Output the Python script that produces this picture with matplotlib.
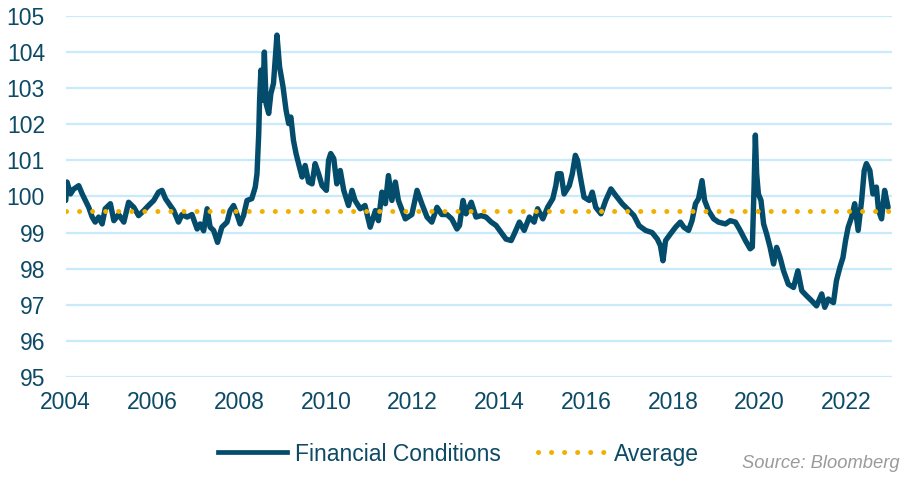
import matplotlib
matplotlib.use("Agg")
import matplotlib.pyplot as plt
from matplotlib.lines import Line2D

# ---- data ----
years = [
    2004.00, 2004.03, 2004.11, 2004.18, 2004.30, 2004.38, 2004.45, 2004.53, 2004.61, 2004.68,
    2004.76, 2004.84, 2004.91, 2005.03, 2005.11, 2005.22, 2005.34, 2005.45, 2005.57, 2005.68,
    2005.80, 2005.91, 2006.03, 2006.14, 2006.22, 2006.30, 2006.41, 2006.49, 2006.60, 2006.68,
    2006.80, 2006.91, 2007.03, 2007.10, 2007.18, 2007.26, 2007.33, 2007.41, 2007.50, 2007.60,
    2007.72, 2007.79, 2007.87, 2007.95, 2008.02, 2008.10, 2008.18, 2008.29, 2008.37, 2008.41,
    2008.45, 2008.47, 2008.50, 2008.54, 2008.58, 2008.62, 2008.68, 2008.73, 2008.79, 2008.83,
    2008.87, 2008.93, 2009.01, 2009.08, 2009.14, 2009.19, 2009.25, 2009.31, 2009.39, 2009.45,
    2009.52, 2009.60, 2009.68, 2009.75, 2009.83, 2009.91, 2010.01, 2010.06, 2010.11, 2010.18,
    2010.25, 2010.33, 2010.41, 2010.52, 2010.60, 2010.67, 2010.79, 2010.90, 2011.02, 2011.14,
    2011.21, 2011.29, 2011.37, 2011.44, 2011.52, 2011.60, 2011.67, 2011.83, 2011.98, 2012.10,
    2012.21, 2012.33, 2012.44, 2012.56, 2012.67, 2012.79, 2012.90, 2013.02, 2013.08, 2013.16,
    2013.23, 2013.35, 2013.46, 2013.58, 2013.69, 2013.81, 2013.92, 2014.04, 2014.15, 2014.27,
    2014.34, 2014.46, 2014.57, 2014.69, 2014.80, 2014.88, 2015.00, 2015.11, 2015.23, 2015.30,
    2015.34, 2015.42, 2015.49, 2015.61, 2015.68, 2015.75, 2015.80, 2015.88, 2015.95, 2016.07,
    2016.14, 2016.22, 2016.34, 2016.45, 2016.57, 2016.68, 2016.83, 2016.99, 2017.10, 2017.22,
    2017.37, 2017.52, 2017.64, 2017.71, 2017.77, 2017.83, 2017.94, 2018.06, 2018.17, 2018.25,
    2018.36, 2018.44, 2018.52, 2018.59, 2018.67, 2018.73, 2018.82, 2018.94, 2019.05, 2019.21,
    2019.32, 2019.44, 2019.55, 2019.67, 2019.78, 2019.83, 2019.87, 2019.90, 2019.93, 2019.97,
    2020.03, 2020.09, 2020.16, 2020.24, 2020.32, 2020.39, 2020.47, 2020.55, 2020.66, 2020.78,
    2020.88, 2020.97, 2021.08, 2021.20, 2021.31, 2021.43, 2021.50, 2021.58, 2021.70, 2021.77,
    2021.85, 2021.92, 2021.98, 2022.04, 2022.12, 2022.19, 2022.27, 2022.35, 2022.41, 2022.46,
    2022.54, 2022.61, 2022.69, 2022.74, 2022.81, 2022.88, 2022.96,
]
fci = [
    99.89, 100.40, 100.07, 100.20, 100.30, 100.07, 99.90, 99.70, 99.43, 99.29,
    99.43, 99.24, 99.66, 99.80, 99.33, 99.50, 99.29, 99.84, 99.70, 99.47,
    99.61, 99.75, 99.89, 100.12, 100.17, 99.94, 99.75, 99.61, 99.29, 99.50,
    99.43, 99.50, 99.10, 99.24, 99.05, 99.66, 99.15, 99.06, 98.73, 99.15,
    99.29, 99.61, 99.75, 99.50, 99.24, 99.47, 99.89, 99.94, 100.26, 100.63,
    101.74, 102.67, 103.50, 102.67, 104.00, 102.57, 102.30, 102.85, 103.13, 103.78,
    104.47, 103.60, 103.04, 102.39, 102.02, 102.20, 101.56, 101.19, 100.81, 100.54,
    100.86, 100.40, 100.35, 100.91, 100.63, 100.30, 100.17, 101.00, 101.19, 101.05,
    100.35, 100.72, 100.17, 99.75, 100.17, 99.89, 99.66, 99.75, 99.15, 99.61,
    99.33, 100.12, 99.80, 100.58, 99.89, 100.40, 99.89, 99.38, 99.50, 100.17,
    99.80, 99.43, 99.29, 99.70, 99.50, 99.50, 99.38, 99.10, 99.20, 99.89,
    99.52, 99.84, 99.43, 99.47, 99.43, 99.29, 99.20, 99.00, 98.82, 98.78,
    98.96, 99.29, 99.06, 99.43, 99.29, 99.66, 99.38, 99.70, 99.94, 100.30,
    100.63, 100.63, 100.07, 100.30, 100.63, 101.14, 101.00, 100.44, 99.98, 99.89,
    100.12, 99.70, 99.52, 99.89, 100.21, 100.03, 99.80, 99.61, 99.47, 99.19,
    99.06, 99.00, 98.82, 98.64, 98.22, 98.78, 98.96, 99.15, 99.29, 99.15,
    99.06, 99.33, 99.80, 99.94, 100.44, 99.89, 99.61, 99.38, 99.29, 99.24,
    99.33, 99.29, 99.06, 98.78, 98.55, 98.60, 100.26, 101.70, 100.63, 100.07,
    99.89, 99.24, 98.96, 98.59, 98.13, 98.59, 98.31, 97.94, 97.57, 97.48,
    97.94, 97.39, 97.25, 97.11, 96.97, 97.30, 96.93, 97.16, 97.06, 97.67,
    98.04, 98.31, 98.78, 99.15, 99.43, 99.80, 99.06, 99.89, 100.72, 100.91,
    100.72, 100.07, 100.26, 99.61, 99.38, 100.17, 99.70,
]
average = 99.6

x_ticks = [2004, 2006, 2008, 2010, 2012, 2014, 2016, 2018, 2020, 2022]
y_ticks = [95, 96, 97, 98, 99, 100, 101, 102, 103, 104, 105]

# ---- styles ----
LINE = "#044c6b"
TXT = "#0c4a66"
GOLD = "#efb000"
GRID = "#c8eafb"
FONT = "Liberation Sans"
DOT = (0, (0.01, 2.6))

fig = plt.figure(figsize=(9.23, 4.83), dpi=100)
ax = fig.add_axes([0.0712, 0.2195, 0.8952, 0.7474])

for yv in y_ticks:
    ax.axhline(yv, color=GRID, lw=1.6, zorder=1)

ax.plot(years, fci, color=LINE, lw=3.9, solid_joinstyle="round",
        solid_capstyle="round", zorder=3)
ax.axhline(average, color=GOLD, lw=3.6, linestyle=DOT,
           dash_capstyle="round", zorder=4)

ax.set_xlim(2004, 2023.05)
ax.set_ylim(95, 105)
ax.set_xticks(x_ticks)
ax.set_xticklabels([str(t) for t in x_ticks])
ax.set_yticks(y_ticks)
ax.set_yticklabels([str(t) for t in y_ticks])
for s in ax.spines.values():
    s.set_visible(False)
ax.tick_params(axis="both", length=0, labelsize=16.5, labelcolor=TXT)
ax.tick_params(axis="y", pad=15)
ax.tick_params(axis="x", pad=10)
for lab in ax.get_xticklabels() + ax.get_yticklabels():
    lab.set_fontfamily(FONT)

handles = [
    Line2D([], [], color=LINE, lw=3.4),
    Line2D([], [], color=GOLD, lw=3.6, linestyle=DOT, dash_capstyle="round"),
]
leg = fig.legend(handles, ["Financial Conditions", "Average"], loc="center",
                 bbox_to_anchor=(0.497, 0.060), ncol=2, frameon=False,
                 handlelength=3.0, handletextpad=0.35, columnspacing=1.6,
                 prop={"family": FONT, "size": 16.5})
for t in leg.get_texts():
    t.set_color(TXT)

fig.text(0.975, 0.041, "Source: Bloomberg", ha="right", va="center",
         fontsize=13.2, style="italic", color="#9a9a9a", family=FONT)

fig.savefig("out.png", dpi=100)
